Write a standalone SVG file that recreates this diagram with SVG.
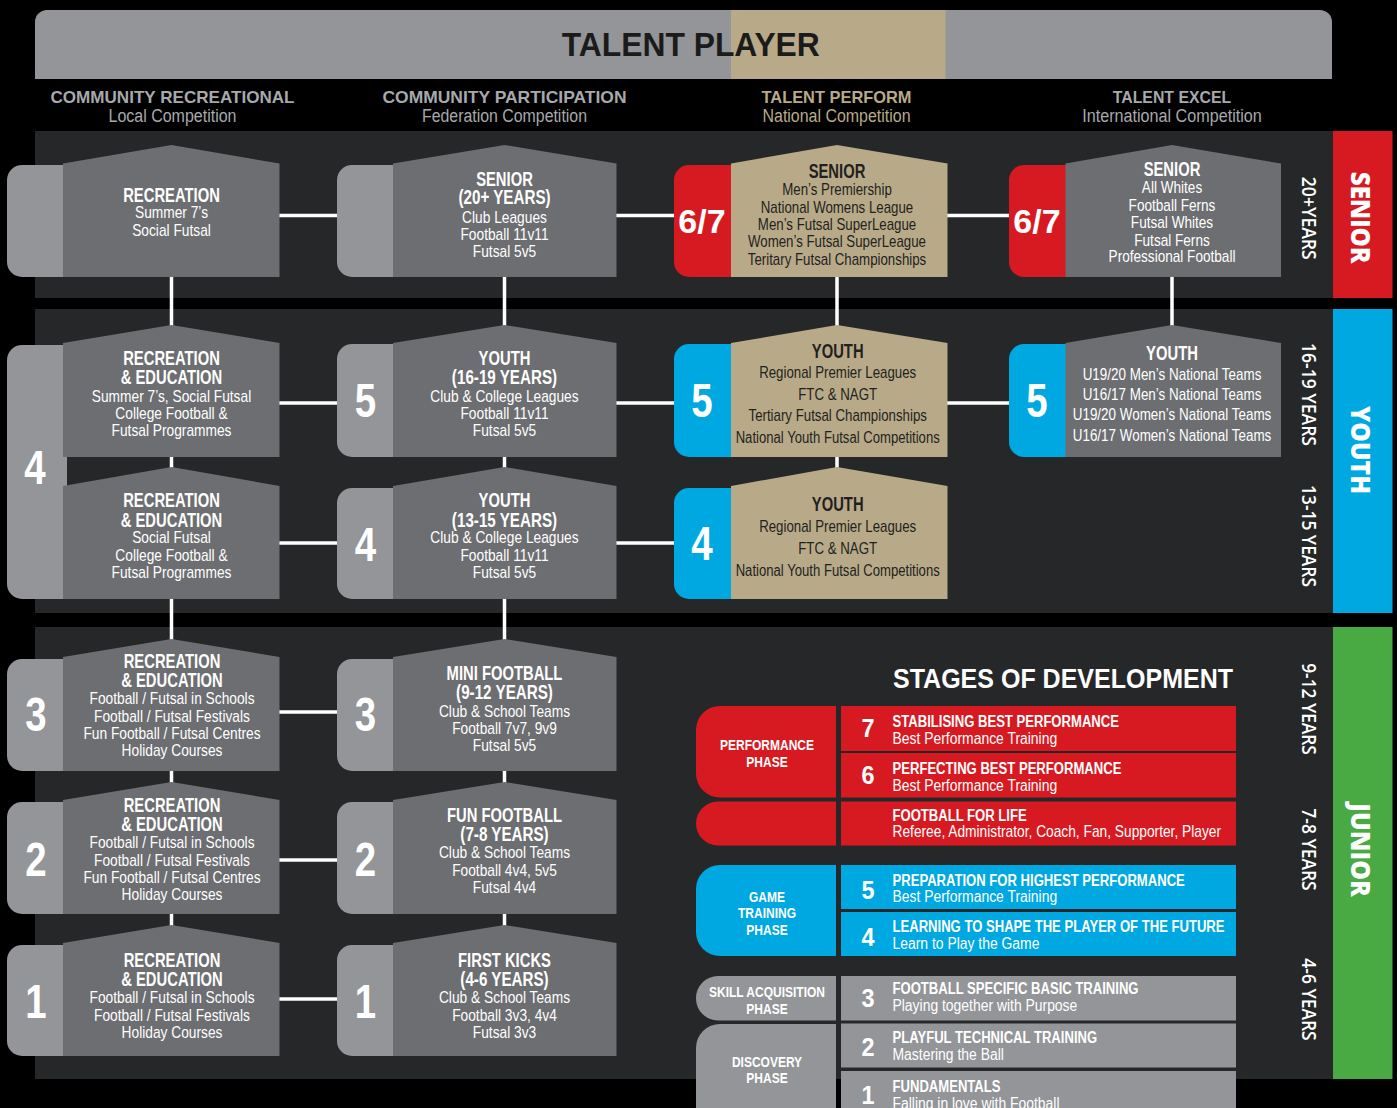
<svg xmlns="http://www.w3.org/2000/svg" width="1397" height="1108" viewBox="0 0 1397 1108">
<style>
.band{fill:#262728}
.tab{fill:#939598}
.body{fill:#6d6e71}
.tan{fill:#b8aa89}
.red{fill:#d71a21}
.blue{fill:#00a8e1}
.green{fill:#49a942}
.conn line{stroke:#fff;stroke-width:3.5}
.b{font:700 20px 'Liberation Sans',Arial,sans-serif;fill:#fff;text-anchor:middle}
.r{font:400 16px 'Liberation Sans',Arial,sans-serif;fill:#fff;text-anchor:middle}
.n{font:700 48px 'Liberation Sans',Arial,sans-serif;fill:#fff;text-anchor:middle}
.n67{font:700 34px 'Liberation Sans',Arial,sans-serif;fill:#fff;text-anchor:middle}
.dk{fill:#231f20}
.hb{font:700 17px 'Liberation Sans',Arial,sans-serif;fill:#a7a9ac;text-anchor:middle}
.hr{font:400 18px 'Liberation Sans',Arial,sans-serif;fill:#a7a9ac;text-anchor:middle}
.gold{fill:#b8aa89}
.side{font:600 19px 'Open Sans','Noto Sans',sans-serif;fill:#fff;text-anchor:middle}
.sideB{font:800 27px 'Open Sans','Noto Sans',sans-serif;fill:#fff;text-anchor:middle}
.lt{font:700 17px 'Liberation Sans',Arial,sans-serif;fill:#fff}
.ls{font:400 16px 'Liberation Sans',Arial,sans-serif;fill:#fff}
.ld{font:700 26px 'Liberation Sans',Arial,sans-serif;fill:#fff;text-anchor:middle}
.lp{font:700 15px 'Liberation Sans',Arial,sans-serif;fill:#fff;text-anchor:middle}
</style>
<rect width="1397" height="1108" fill="#000"/>

<g id="header">
<path d="M35,79 V22 A12,12 0 0 1 47,10 H1320 A12,12 0 0 1 1332,22 V79 Z" fill="#939598"/>
<rect x="731" y="10" width="214.5" height="69" fill="#b8aa89"/>
<text x="690.8" y="56" font-family="'Liberation Sans',Arial,sans-serif" font-weight="700" font-size="34" fill="#1b1b1b" text-anchor="middle" textLength="258" lengthAdjust="spacingAndGlyphs">TALENT PLAYER</text>
</g>

<g id="column-headers">
<text class="hb" x="172.5" y="102.7" textLength="244" lengthAdjust="spacingAndGlyphs">COMMUNITY RECREATIONAL</text>
<text class="hr" x="172.5" y="121.7" textLength="128" lengthAdjust="spacingAndGlyphs">Local Competition</text>
<text class="hb" x="504.5" y="102.7" textLength="244" lengthAdjust="spacingAndGlyphs">COMMUNITY PARTICIPATION</text>
<text class="hr" x="504.5" y="121.7" textLength="165" lengthAdjust="spacingAndGlyphs">Federation Competition</text>
<text class="hb gold" x="836.5" y="102.7" textLength="150" lengthAdjust="spacingAndGlyphs">TALENT PERFORM</text>
<text class="hr gold" x="836.5" y="121.7" textLength="148" lengthAdjust="spacingAndGlyphs">National Competition</text>
<text class="hb" x="1172" y="102.7" textLength="118.5" lengthAdjust="spacingAndGlyphs">TALENT EXCEL</text>
<text class="hr" x="1172" y="121.7" textLength="179.5" lengthAdjust="spacingAndGlyphs">International Competition</text>
</g>

<g id="bands">
<rect class="band" x="35" y="131" width="1298" height="167"/>
<rect class="band" x="35" y="309" width="1298" height="304"/>
<rect class="band" x="35" y="627" width="1298" height="452"/>
<rect class="red" x="1333" y="131" width="59.5" height="167"/>
<rect class="blue" x="1333" y="309" width="59.5" height="304"/>
<rect class="green" x="1333" y="627" width="59.5" height="452"/>
<text class="side" transform="translate(1301.7,218.3) rotate(90)" textLength="83" lengthAdjust="spacingAndGlyphs">20+YEARS</text>
<text class="sideB" transform="translate(1351,217.5) rotate(90)" textLength="91.7" lengthAdjust="spacingAndGlyphs">SENIOR</text>
<text class="side" transform="translate(1301.7,394.5) rotate(90)" textLength="103" lengthAdjust="spacingAndGlyphs">16-19 YEARS</text>
<text class="side" transform="translate(1301.7,536) rotate(90)" textLength="102" lengthAdjust="spacingAndGlyphs">13-15 YEARS</text>
<text class="sideB" transform="translate(1351,450) rotate(90)" textLength="88" lengthAdjust="spacingAndGlyphs">YOUTH</text>
<text class="side" transform="translate(1301.7,709) rotate(90)" textLength="91.7" lengthAdjust="spacingAndGlyphs">9-12 YEARS</text>
<text class="side" transform="translate(1301.7,849.5) rotate(90)" textLength="82.3" lengthAdjust="spacingAndGlyphs">7-8 YEARS</text>
<text class="side" transform="translate(1301.7,999.5) rotate(90)" textLength="82.3" lengthAdjust="spacingAndGlyphs">4-6 YEARS</text>
<text class="sideB" transform="translate(1351,850) rotate(90)" textLength="93.3" lengthAdjust="spacingAndGlyphs">JUNIOR</text>
</g>

<g id="connectors" class="conn">
<line x1="275" y1="215.5" x2="341" y2="215.5"/>
<line x1="612" y1="215.5" x2="678" y2="215.5"/>
<line x1="943" y1="215.5" x2="1013" y2="215.5"/>
<line x1="275" y1="403" x2="341" y2="403"/>
<line x1="612" y1="403" x2="678" y2="403"/>
<line x1="943" y1="403" x2="1013" y2="403"/>
<line x1="275" y1="543" x2="341" y2="543"/>
<line x1="612" y1="543" x2="678" y2="543"/>
<line x1="275" y1="712" x2="341" y2="712"/>
<line x1="275" y1="860" x2="341" y2="860"/>
<line x1="275" y1="999" x2="341" y2="999"/>
<line x1="171.5" y1="270" x2="171.5" y2="330"/>
<line x1="171.5" y1="450" x2="171.5" y2="472"/>
<line x1="171.5" y1="590" x2="171.5" y2="644"/>
<line x1="171.5" y1="765" x2="171.5" y2="787"/>
<line x1="171.5" y1="908" x2="171.5" y2="930"/>
<line x1="504.5" y1="270" x2="504.5" y2="330"/>
<line x1="504.5" y1="450" x2="504.5" y2="472"/>
<line x1="504.5" y1="590" x2="504.5" y2="644"/>
<line x1="504.5" y1="765" x2="504.5" y2="787"/>
<line x1="504.5" y1="908" x2="504.5" y2="930"/>
<line x1="837" y1="270" x2="837" y2="330"/>
<line x1="837" y1="450" x2="837" y2="472"/>
<line x1="1172" y1="270" x2="1172" y2="330"/>
</g>

<g id="node-recreation-senior">
<path class="tab" d="M67,165 H22 A15,15 0 0 0 7,180 V262 A15,15 0 0 0 22,277 H67 Z"/>
<path class="body" d="M63,163.5 L171.5,145 L279.5,163.5 V277 H63 Z"/>
<text class="b" transform="translate(171.5,201.5) scale(.74,1)">RECREATION</text>
<text class="r" transform="translate(171.5,218.3) scale(.86,1)">Summer 7’s</text>
<text class="r" transform="translate(171.5,235.5) scale(.86,1)">Social Futsal</text>
</g>

<g id="node-senior-participation">
<path class="tab" d="M397,165 H352 A15,15 0 0 0 337,180 V262 A15,15 0 0 0 352,277 H397 Z"/>
<path class="body" d="M393,163.5 L504.5,145 L616.5,163.5 V277 H393 Z"/>
<text class="b" transform="translate(504.5,185.7) scale(.74,1)">SENIOR</text>
<text class="b" transform="translate(504.5,204) scale(.76,1)">(20+ YEARS)</text>
<text class="r" transform="translate(504.5,222.5) scale(.86,1)">Club Leagues</text>
<text class="r" transform="translate(504.5,240) scale(.86,1)">Football 11v11</text>
<text class="r" transform="translate(504.5,257.3) scale(.86,1)">Futsal 5v5</text>
</g>

<g id="node-senior-perform">
<path class="red" d="M734,165 H689 A15,15 0 0 0 674,180 V262 A15,15 0 0 0 689,277 H734 Z"/>
<path class="tan" d="M731,163.5 L837,145 L947.5,163.5 V277 H731 Z"/>
<text class="n67" x="702" y="233.3">6/7</text>
<text class="b dk" transform="translate(837,178) scale(.74,1)">SENIOR</text>
<text class="r dk" transform="translate(837,195) scale(.83,1)">Men’s Premiership</text>
<text class="r dk" transform="translate(837,212.7) scale(.83,1)">National Womens League</text>
<text class="r dk" transform="translate(837,230) scale(.83,1)">Men’s Futsal SuperLeague</text>
<text class="r dk" transform="translate(837,247.3) scale(.83,1)">Women’s Futsal SuperLeague</text>
<text class="r dk" transform="translate(837,265) scale(.83,1)">Teritary Futsal Championships</text>
</g>

<g id="node-senior-excel">
<path class="red" d="M1069,165 H1024 A15,15 0 0 0 1009,180 V262 A15,15 0 0 0 1024,277 H1069 Z"/>
<path class="body" d="M1065.5,163.5 L1172,145 L1281,163.5 V277 H1065.5 Z"/>
<text class="n67" x="1037" y="233.3">6/7</text>
<text class="b" transform="translate(1172,176) scale(.74,1)">SENIOR</text>
<text class="r" transform="translate(1172,193.3) scale(.85,1)">All Whites</text>
<text class="r" transform="translate(1172,210.7) scale(.85,1)">Football Ferns</text>
<text class="r" transform="translate(1172,228) scale(.85,1)">Futsal Whites</text>
<text class="r" transform="translate(1172,245.7) scale(.85,1)">Futsal Ferns</text>
<text class="r" transform="translate(1172,262.3) scale(.85,1)">Professional Football</text>
</g>

<g id="node-recreation-youth">
<path class="tab" d="M67,345 H22 A15,15 0 0 0 7,360 V584 A15,15 0 0 0 22,599 H67 Z"/>
<text class="n" transform="translate(35,484.3) scale(.8,1)">4</text>
<g id="node-recreation-16-19">
<path class="body" d="M63,343 L171.5,325 L279.5,343 V457 H63 Z"/>
<text class="b" transform="translate(171.5,365) scale(.74,1)">RECREATION</text>
<text class="b" transform="translate(171.5,384.3) scale(.74,1)">&amp; EDUCATION</text>
<text class="r" transform="translate(171.5,401.7) scale(.86,1)">Summer 7’s, Social Futsal</text>
<text class="r" transform="translate(171.5,419) scale(.86,1)">College Football &amp;</text>
<text class="r" transform="translate(171.5,436) scale(.86,1)">Futsal Programmes</text>
</g>
<g id="node-recreation-13-15">
<path class="body" d="M63,486 L171.5,467 L279.5,486 V599 H63 Z"/>
<text class="b" transform="translate(171.5,507.3) scale(.74,1)">RECREATION</text>
<text class="b" transform="translate(171.5,526.7) scale(.74,1)">&amp; EDUCATION</text>
<text class="r" transform="translate(171.5,543.3) scale(.86,1)">Social Futsal</text>
<text class="r" transform="translate(171.5,561) scale(.86,1)">College Football &amp;</text>
<text class="r" transform="translate(171.5,578.3) scale(.86,1)">Futsal Programmes</text>
</g>
</g>

<g id="node-youth-16-19">
<path class="tab" d="M397,344 H352 A15,15 0 0 0 337,359 V442 A15,15 0 0 0 352,457 H397 Z"/>
<path class="body" d="M393,343 L504.5,325 L616.5,343 V457 H393 Z"/>
<text class="n" transform="translate(365.5,417.3) scale(.8,1)">5</text>
<text class="b" transform="translate(504.5,365) scale(.74,1)">YOUTH</text>
<text class="b" transform="translate(504.5,384.3) scale(.76,1)">(16-19 YEARS)</text>
<text class="r" transform="translate(504.5,401.7) scale(.86,1)">Club &amp; College Leagues</text>
<text class="r" transform="translate(504.5,419) scale(.86,1)">Football 11v11</text>
<text class="r" transform="translate(504.5,436) scale(.86,1)">Futsal 5v5</text>
</g>

<g id="node-youth-13-15">
<path class="tab" d="M397,488 H352 A15,15 0 0 0 337,503 V584 A15,15 0 0 0 352,599 H397 Z"/>
<path class="body" d="M393,486 L504.5,467 L616.5,486 V599 H393 Z"/>
<text class="n" transform="translate(365.5,561) scale(.8,1)">4</text>
<text class="b" transform="translate(504.5,507.3) scale(.74,1)">YOUTH</text>
<text class="b" transform="translate(504.5,526.7) scale(.76,1)">(13-15 YEARS)</text>
<text class="r" transform="translate(504.5,543.3) scale(.86,1)">Club &amp; College Leagues</text>
<text class="r" transform="translate(504.5,561) scale(.86,1)">Football 11v11</text>
<text class="r" transform="translate(504.5,578.3) scale(.86,1)">Futsal 5v5</text>
</g>

<g id="node-youth-perform-5">
<path class="blue" d="M734,344 H689 A15,15 0 0 0 674,359 V442 A15,15 0 0 0 689,457 H734 Z"/>
<path class="tan" d="M731,343 L837,325 L947.5,343 V457 H731 Z"/>
<text class="n" transform="translate(702,416.7) scale(.8,1)">5</text>
<text class="b dk" transform="translate(837.7,358.3) scale(.74,1)">YOUTH</text>
<text class="r dk" transform="translate(837.7,377.7) scale(.83,1)">Regional Premier Leagues</text>
<text class="r dk" transform="translate(837.7,400) scale(.83,1)">FTC &amp; NAGT</text>
<text class="r dk" transform="translate(837.7,420.5) scale(.83,1)">Tertiary Futsal Championships</text>
<text class="r dk" transform="translate(837.7,442.5) scale(.82,1)">National Youth Futsal Competitions</text>
</g>

<g id="node-youth-perform-4">
<path class="blue" d="M734,488 H689 A15,15 0 0 0 674,503 V584 A15,15 0 0 0 689,599 H734 Z"/>
<path class="tan" d="M731,486 L837,467 L947.5,486 V599 H731 Z"/>
<text class="n" transform="translate(702,560) scale(.8,1)">4</text>
<text class="b dk" transform="translate(837.7,510.7) scale(.74,1)">YOUTH</text>
<text class="r dk" transform="translate(837.7,531.7) scale(.83,1)">Regional Premier Leagues</text>
<text class="r dk" transform="translate(837.7,554) scale(.83,1)">FTC &amp; NAGT</text>
<text class="r dk" transform="translate(837.7,575.7) scale(.82,1)">National Youth Futsal Competitions</text>
</g>

<g id="node-youth-excel">
<path class="blue" d="M1069,344 H1024 A15,15 0 0 0 1009,359 V442 A15,15 0 0 0 1024,457 H1069 Z"/>
<path class="body" d="M1065.5,343 L1172,325 L1281,343 V457 H1065.5 Z"/>
<text class="n" transform="translate(1037,416.7) scale(.8,1)">5</text>
<text class="b" transform="translate(1172,360) scale(.74,1)">YOUTH</text>
<text class="r" transform="translate(1172,380) scale(.84,1)">U19/20 Men’s National Teams</text>
<text class="r" transform="translate(1172,400) scale(.84,1)">U16/17 Men’s National Teams</text>
<text class="r" transform="translate(1172,420) scale(.84,1)">U19/20 Women’s National Teams</text>
<text class="r" transform="translate(1172,440.7) scale(.84,1)">U16/17 Women’s National Teams</text>
</g>

<g id="node-recreation-junior-3">
<path class="tab" d="M67,659 H22 A15,15 0 0 0 7,674 V756 A15,15 0 0 0 22,771 H67 Z"/>
<path class="body" d="M63,657 L171.5,639 L279.5,657 V771 H63 Z"/>
<text class="n" transform="translate(35.8,731) scale(.8,1)">3</text>
<text class="b" transform="translate(172,667.7) scale(.74,1)">RECREATION</text>
<text class="b" transform="translate(172,686.7) scale(.74,1)">&amp; EDUCATION</text>
<text class="r" transform="translate(172,704) scale(.86,1)">Football / Futsal in Schools</text>
<text class="r" transform="translate(172,721.7) scale(.86,1)">Football / Futsal Festivals</text>
<text class="r" transform="translate(172,739) scale(.86,1)">Fun Football / Futsal Centres</text>
<text class="r" transform="translate(172,756) scale(.86,1)">Holiday Courses</text>
</g>

<g id="node-mini-football">
<path class="tab" d="M397,659 H352 A15,15 0 0 0 337,674 V756 A15,15 0 0 0 352,771 H397 Z"/>
<path class="body" d="M393,657 L504.5,639 L616.5,657 V771 H393 Z"/>
<text class="n" transform="translate(365.5,731) scale(.8,1)">3</text>
<text class="b" transform="translate(504.5,680) scale(.74,1)">MINI FOOTBALL</text>
<text class="b" transform="translate(504.5,699.3) scale(.76,1)">(9-12 YEARS)</text>
<text class="r" transform="translate(504.5,716.7) scale(.86,1)">Club &amp; School Teams</text>
<text class="r" transform="translate(504.5,734) scale(.86,1)">Football 7v7, 9v9</text>
<text class="r" transform="translate(504.5,751) scale(.86,1)">Futsal 5v5</text>
</g>

<g id="node-recreation-junior-2">
<path class="tab" d="M67,802 H22 A15,15 0 0 0 7,817 V899 A15,15 0 0 0 22,914 H67 Z"/>
<path class="body" d="M63,800 L171.5,782 L279.5,800 V914 H63 Z"/>
<text class="n" transform="translate(35.8,875.7) scale(.8,1)">2</text>
<text class="b" transform="translate(172,811.7) scale(.74,1)">RECREATION</text>
<text class="b" transform="translate(172,830.7) scale(.74,1)">&amp; EDUCATION</text>
<text class="r" transform="translate(172,848.3) scale(.86,1)">Football / Futsal in Schools</text>
<text class="r" transform="translate(172,865.7) scale(.86,1)">Football / Futsal Festivals</text>
<text class="r" transform="translate(172,882.7) scale(.86,1)">Fun Football / Futsal Centres</text>
<text class="r" transform="translate(172,900) scale(.86,1)">Holiday Courses</text>
</g>

<g id="node-fun-football">
<path class="tab" d="M397,802 H352 A15,15 0 0 0 337,817 V899 A15,15 0 0 0 352,914 H397 Z"/>
<path class="body" d="M393,800 L504.5,782 L616.5,800 V914 H393 Z"/>
<text class="n" transform="translate(365.5,875.7) scale(.8,1)">2</text>
<text class="b" transform="translate(504.5,821.7) scale(.74,1)">FUN FOOTBALL</text>
<text class="b" transform="translate(504.5,841) scale(.76,1)">(7-8 YEARS)</text>
<text class="r" transform="translate(504.5,858.3) scale(.86,1)">Club &amp; School Teams</text>
<text class="r" transform="translate(504.5,876) scale(.86,1)">Football 4v4, 5v5</text>
<text class="r" transform="translate(504.5,893.3) scale(.86,1)">Futsal 4v4</text>
</g>

<g id="node-recreation-junior-1">
<path class="tab" d="M67,945 H22 A15,15 0 0 0 7,960 V1041 A15,15 0 0 0 22,1056 H67 Z"/>
<path class="body" d="M63,943 L171.5,925 L279.5,943 V1056 H63 Z"/>
<text class="n" transform="translate(35.8,1017.7) scale(.8,1)">1</text>
<text class="b" transform="translate(172,966.7) scale(.74,1)">RECREATION</text>
<text class="b" transform="translate(172,985.7) scale(.74,1)">&amp; EDUCATION</text>
<text class="r" transform="translate(172,1003.3) scale(.86,1)">Football / Futsal in Schools</text>
<text class="r" transform="translate(172,1020.7) scale(.86,1)">Football / Futsal Festivals</text>
<text class="r" transform="translate(172,1037.7) scale(.86,1)">Holiday Courses</text>
</g>

<g id="node-first-kicks">
<path class="tab" d="M397,945 H352 A15,15 0 0 0 337,960 V1041 A15,15 0 0 0 352,1056 H397 Z"/>
<path class="body" d="M393,943 L504.5,925 L616.5,943 V1056 H393 Z"/>
<text class="n" transform="translate(365.5,1017.7) scale(.8,1)">1</text>
<text class="b" transform="translate(504.5,966.7) scale(.74,1)">FIRST KICKS</text>
<text class="b" transform="translate(504.5,985.7) scale(.76,1)">(4-6 YEARS)</text>
<text class="r" transform="translate(504.5,1003.3) scale(.86,1)">Club &amp; School Teams</text>
<text class="r" transform="translate(504.5,1020.7) scale(.86,1)">Football 3v3, 4v4</text>
<text class="r" transform="translate(504.5,1037.7) scale(.86,1)">Futsal 3v3</text>
</g>

<g id="stages-legend">
<text x="1233" y="688" font-family="'Liberation Sans',Arial,sans-serif" font-weight="700" font-size="28" fill="#fff" text-anchor="end" textLength="340" lengthAdjust="spacingAndGlyphs">STAGES OF DEVELOPMENT</text>

<g id="phase-performance">
<path class="red" d="M836,706 H720 A24,24 0 0 0 696,730 V773.5 A24,24 0 0 0 720,797.5 H836 Z"/>
<text class="lp" transform="translate(767,750) scale(.8,1)">PERFORMANCE</text>
<text class="lp" transform="translate(767,766.7) scale(.8,1)">PHASE</text>
</g>
<g id="stage-7">
<rect class="red" x="841" y="706" width="395" height="45"/>
<text class="ld" transform="translate(868,736.7) scale(.9,1)">7</text>
<text class="lt" transform="translate(892.5,727.3) scale(.77,1)">STABILISING BEST PERFORMANCE</text>
<text class="ls" transform="translate(892.5,744) scale(.87,1)">Best Performance Training</text>
</g>
<g id="stage-6">
<rect class="red" x="841" y="753" width="395" height="44.5"/>
<text class="ld" transform="translate(868,784) scale(.9,1)">6</text>
<text class="lt" transform="translate(892.5,774) scale(.77,1)">PERFECTING BEST PERFORMANCE</text>
<text class="ls" transform="translate(892.5,790.7) scale(.87,1)">Best Performance Training</text>
</g>
<g id="stage-football-for-life">
<path class="red" d="M836,801.5 H718 A22,22 0 0 0 696,823.5 A22,22 0 0 0 718,845.5 H836 Z"/>
<rect class="red" x="841" y="801.5" width="395" height="44"/>
<text class="lt" transform="translate(892.5,820.7) scale(.77,1)">FOOTBALL FOR LIFE</text>
<text class="ls" transform="translate(892.5,837.3) scale(.86,1)">Referee, Administrator, Coach, Fan, Supporter, Player</text>
</g>

<g id="phase-game-training">
<path class="blue" d="M836,865 H720 A24,24 0 0 0 696,889 V932 A24,24 0 0 0 720,956 H836 Z"/>
<text class="lp" transform="translate(767,901.7) scale(.8,1)">GAME</text>
<text class="lp" transform="translate(767,918.3) scale(.8,1)">TRAINING</text>
<text class="lp" transform="translate(767,935.3) scale(.8,1)">PHASE</text>
</g>
<g id="stage-5">
<rect class="blue" x="841" y="865" width="395" height="44"/>
<text class="ld" transform="translate(868,899) scale(.9,1)">5</text>
<text class="lt" transform="translate(892.5,885.7) scale(.77,1)">PREPARATION FOR HIGHEST PERFORMANCE</text>
<text class="ls" transform="translate(892.5,902.3) scale(.87,1)">Best Performance Training</text>
</g>
<g id="stage-4">
<rect class="blue" x="841" y="912" width="395" height="44"/>
<text class="ld" transform="translate(868,945.7) scale(.9,1)">4</text>
<text class="lt" transform="translate(892.5,932.3) scale(.77,1)">LEARNING TO SHAPE THE PLAYER OF THE FUTURE</text>
<text class="ls" transform="translate(892.5,949) scale(.87,1)">Learn to Play the Game</text>
</g>

<g id="phase-skill-acquisition">
<path class="tab" d="M836,976 H718 A22,22 0 0 0 696,998 V998.5 A22,22 0 0 0 718,1020.5 H836 Z"/>
<text class="lp" transform="translate(767,997.3) scale(.8,1)">SKILL ACQUISITION</text>
<text class="lp" transform="translate(767,1014) scale(.8,1)">PHASE</text>
</g>
<g id="stage-3">
<rect class="tab" x="841" y="976" width="395" height="44.5"/>
<text class="ld" transform="translate(868,1007.3) scale(.9,1)">3</text>
<text class="lt" transform="translate(892.5,994) scale(.77,1)">FOOTBALL SPECIFIC BASIC TRAINING</text>
<text class="ls" transform="translate(892.5,1010.7) scale(.87,1)">Playing together with Purpose</text>
</g>

<g id="phase-discovery">
<path class="tab" d="M836,1024 H720 A24,24 0 0 0 696,1048 V1112 H836 Z"/>
<text class="lp" transform="translate(767,1066.7) scale(.8,1)">DISCOVERY</text>
<text class="lp" transform="translate(767,1083.3) scale(.8,1)">PHASE</text>
</g>
<g id="stage-2">
<rect class="tab" x="841" y="1023.5" width="395" height="44"/>
<text class="ld" transform="translate(868,1055.7) scale(.9,1)">2</text>
<text class="lt" transform="translate(892.5,1042.7) scale(.77,1)">PLAYFUL TECHNICAL TRAINING</text>
<text class="ls" transform="translate(892.5,1060) scale(.87,1)">Mastering the Ball</text>
</g>
<g id="stage-1">
<rect class="tab" x="841" y="1071" width="395" height="41"/>
<text class="ld" transform="translate(868,1104) scale(.9,1)">1</text>
<text class="lt" transform="translate(892.5,1091.7) scale(.77,1)">FUNDAMENTALS</text>
<text class="ls" transform="translate(892.5,1108.5) scale(.87,1)">Falling in love with Football</text>
</g>
</g>
</svg>
